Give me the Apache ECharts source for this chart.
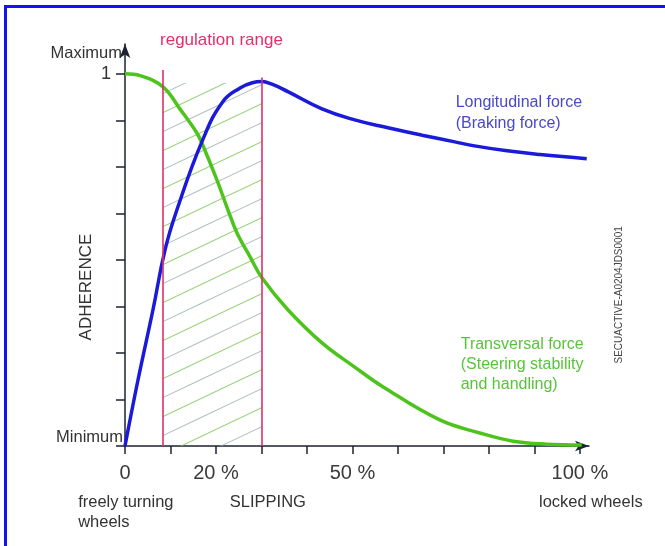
<!DOCTYPE html>
<html>
<head>
<meta charset="utf-8">
<script src="https://cdn.jsdelivr.net/npm/echarts@6/dist/echarts.min.js"></script>
<style>
  html, body { margin: 0; padding: 0; background: #fff; }
  #wrap { position: relative; width: 665px; height: 546px; overflow: hidden; }
  #chart { position: absolute; left: 0; top: 0; width: 665px; height: 546px; }
  #frame { position: absolute; left: 4px; top: 5px; width: 700px; height: 600px;
           border-top: 3px solid #1414f0; border-left: 3px solid #1414f0; pointer-events: none; }
</style>
</head>
<body>
<div id="wrap"><div id="chart"></div><div id="frame"></div></div>
<script>
// ---- data (slip %, adherence 0..1) ----
const longX  = [0, 2.9, 6.15, 8.8, 11.4, 17.1, 21.5, 25.3, 28.0, 30.1, 32.3, 35.8, 43.3, 50.5, 57.8, 65.3, 72.5, 76.5, 84.0, 91.2, 101.5];
const longY  = [0, 0.18, 0.366, 0.527, 0.634, 0.823, 0.925, 0.962, 0.976, 0.979, 0.972, 0.952, 0.906, 0.876, 0.855, 0.835, 0.817, 0.807, 0.793, 0.783, 0.772];
const transX = [0, 3.3, 8.35, 12.1, 15.8, 17.1, 20.2, 22.4, 24.6, 27.5, 30.1, 35.8, 43.3, 50.5, 57.1, 69.2, 78.0, 85.3, 92.7, 100.4];
const transY = [1.0, 0.995, 0.965, 0.905, 0.841, 0.808, 0.715, 0.642, 0.573, 0.508, 0.452, 0.366, 0.277, 0.212, 0.156, 0.070, 0.035, 0.013, 0.005, 0.003];
const regRange = [8.35, 30.1];
const xTickValues = [0, 10, 20, 30, 40, 50, 60, 70, 80, 90, 100];
const xLabelValues = [0, 20, 50, 100];
const yTickValues = [0, 0.125, 0.25, 0.375, 0.5, 0.625, 0.75, 0.875, 1];
const yLabelValues = [0, 1, 1.055];
const yLabelTexts = ['Minimum', '1', 'Maximum'];

const FONT = 'Liberation Sans, Arial, Helvetica, sans-serif';
const zip = (a, b) => a.map((v, i) => [v, b[i]]);

function hatchCanvas() {
  const c = document.createElement('canvas');
  c.width = 80; c.height = 38;
  const g = c.getContext('2d');
  g.lineWidth = 1.1;
  for (let k = -1; k <= 5; k++) {
    const cc = k * 19;
    g.strokeStyle = (((k % 2) + 2) % 2 === 0) ? 'rgba(120,196,80,0.8)' : 'rgba(150,170,165,0.75)';
    g.beginPath();
    g.moveTo(-5, cc + 0.475 * 5);
    g.lineTo(85, cc - 0.475 * 85);
    g.stroke();
  }
  return c;
}

const chart = echarts.init(document.getElementById('chart'));
const axisColor = '#1c2233';

chart.setOption({
  animation: false,
  backgroundColor: 'transparent',
  grid: { left: 125, right: 76, top: 44, bottom: 100 },
  xAxis: {
    type: 'value', min: 0, max: 102,
    axisLine: { show: true, symbol: ['none', 'arrow'], symbolSize: [8, 14],
                lineStyle: { color: axisColor, width: 1.5 } },
    axisTick: { show: true, length: 8, customValues: xTickValues,
                lineStyle: { color: axisColor, width: 1.5 } },
    axisLabel: { show: true, customValues: xLabelValues, margin: 17,
                 formatter: v => v === 0 ? '0' : v + ' %',
                 color: '#3a3a3a', fontSize: 20, fontFamily: FONT },
    splitLine: { show: false }
  },
  yAxis: {
    type: 'value', min: 0, max: 1.08,
    axisLine: { show: true, symbol: ['none', 'arrow'], symbolSize: [8, 14],
                lineStyle: { color: axisColor, width: 1.5 } },
    axisTick: { show: true, length: 9, customValues: yTickValues,
                lineStyle: { color: axisColor, width: 1.5 } },
    axisLabel: {
      show: true, customValues: yLabelValues, margin: 2,
      formatter: v => {
        const i = yLabelValues.indexOf(v);
        const t = i >= 0 ? yLabelTexts[i] : '';
        if (t === '1') return '{one|1}';
        if (t === 'Minimum') return '{min|Minimum}';
        return '{max|' + t + '}';
      },
      rich: {
        one: { fontSize: 18, color: '#333', fontFamily: FONT, padding: [0, 12, 0, 0] },
        min: { fontSize: 16.5, color: '#333', fontFamily: FONT, padding: [0, 0, 18, 0] },
        max: { fontSize: 16.5, color: '#333', fontFamily: FONT, padding: [0, 1, 0, 0] }
      }
    },
    splitLine: { show: false }
  },
  series: [
    {
      name: 'regulation', type: 'line', data: [], z: 1,
      markArea: {
        silent: true,
        itemStyle: { color: { image: hatchCanvas(), repeat: 'repeat' } },
        data: [[{ coord: [regRange[0], 0] }, { coord: [regRange[1], 0.975] }]]
      },
      markLine: {
        silent: true, symbol: ['none', 'none'],
        label: { show: false },
        lineStyle: { color: '#e0306a', width: 1.6, type: 'solid' },
        data: [
          [{ coord: [regRange[0], 0] }, { coord: [regRange[0], 1.01] }],
          [{ coord: [regRange[1], 0] }, { coord: [regRange[1], 0.99] }]
        ]
      }
    },
    {
      name: 'Transversal force', type: 'line', data: zip(transX, transY),
      smooth: 0.4, showSymbol: false, z: 3,
      lineStyle: { color: '#4cc41c', width: 3.5 }
    },
    {
      name: 'Longitudinal force', type: 'line', data: zip(longX, longY),
      smooth: 0.45, showSymbol: false, z: 4,
      lineStyle: { color: '#1a1ad8', width: 3.5 }
    }
  ]
});

const px = (x, y) => chart.convertToPixel({ gridIndex: 0 }, [x, y]);
function txt(pos, text, opts) {
  return {
    type: 'text', x: pos[0], y: pos[1], rotation: opts.rotation || 0, silent: true,
    style: {
      text: text, fill: opts.color, fontSize: opts.size, fontFamily: FONT,
      align: opts.align || 'left', verticalAlign: opts.valign || 'top',
      lineHeight: opts.lh || opts.size * 1.2
    }
  };
}
chart.setOption({
  graphic: [
    txt(px(7.7, 1.091), 'regulation range', { color: '#e0306a', size: 17, valign: 'middle' }),
    txt(px(72.7, 0.952), 'Longitudinal force\n(Braking force)', { color: '#4848c8', size: 16, lh: 21 }),
    txt(px(73.8, 0.298), 'Transversal force\n(Steering stability\nand handling)', { color: '#58c43a', size: 16, lh: 20 }),
    txt(px(-8.57, 0.427), 'ADHERENCE', { color: '#333', size: 17, align: 'center', valign: 'middle', rotation: Math.PI / 2 }),
    txt(px(108.6, 0.406), 'SECUACTIVE-A0204JDS0001', { color: '#444', size: 10, align: 'center', valign: 'middle', rotation: Math.PI / 2 }),
    txt(px(-10.3, -0.124), 'freely turning\nwheels', { color: '#333', size: 16.5, lh: 20 }),
    txt(px(31.4, -0.151), 'SLIPPING', { color: '#333', size: 16.5, align: 'center', valign: 'middle' }),
    txt(px(102.4, -0.151), 'locked wheels', { color: '#333', size: 16.5, align: 'center', valign: 'middle' })
  ]
});
</script>
</body>
</html>
